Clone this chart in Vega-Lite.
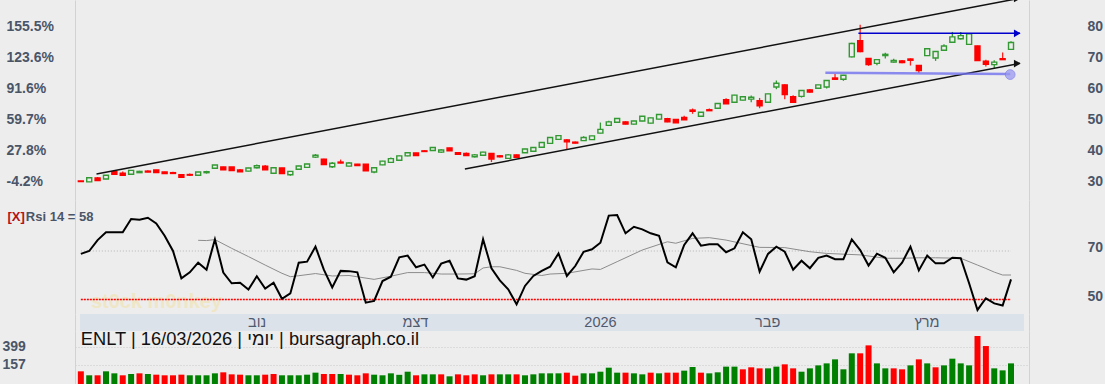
{
"$schema":"https://vega.github.io/schema/vega-lite/v6.json",
"width":954,"height":384,"autosize":"none",
"padding":{"left":75,"right":76,"top":0,"bottom":0},
"background":"#ededed",
"config":{"view":{"stroke":null},"axis":{"labelFont":"Liberation Sans","labelFontSize":14,"labelFontWeight":"bold","labelColor":"#4a5568","domainColor":"#d2d2d2","ticks":false,"tickSize":0,"grid":false,"labelOverlap":false},"text":{"font":"Liberation Sans"}},
"datasets":{
"d":[
{"i":0,"o":30.2,"h":30.3,"l":30.0,"c":30.05,"vol":72,"chg":"down","rsi":68.8},
{"i":1,"o":29.95,"h":31.3,"l":29.9,"c":31.25,"vol":18.6,"chg":"up","rsi":70.0},
{"i":2,"o":31.2,"h":31.5,"l":30.3,"c":30.35,"vol":18.6,"chg":"down","rsi":74.5},
{"i":3,"o":30.85,"h":32.1,"l":30.8,"c":32.05,"vol":72,"chg":"up","rsi":77.7},
{"i":4,"o":33.2,"h":33.3,"l":32.3,"c":32.4,"vol":45,"chg":"up","rsi":77.7},
{"i":5,"o":32.7,"h":33.3,"l":32.0,"c":32.05,"vol":18.6,"chg":"down","rsi":77.7},
{"i":6,"o":32.4,"h":33.7,"l":32.3,"c":33.65,"vol":36,"chg":"up","rsi":83.2},
{"i":7,"o":32.9,"h":33.5,"l":32.8,"c":33.3,"vol":45,"chg":"down","rsi":82.9},
{"i":8,"o":33.4,"h":33.7,"l":33.0,"c":33.1,"vol":36,"chg":"up","rsi":83.7},
{"i":9,"o":33.75,"h":33.8,"l":32.85,"c":32.9,"vol":27,"chg":"down","rsi":81.4},
{"i":10,"o":33.1,"h":33.2,"l":32.55,"c":32.6,"vol":18.6,"chg":"down","rsi":76.3},
{"i":11,"o":32.9,"h":33.2,"l":32.6,"c":32.65,"vol":18.6,"chg":"down","rsi":70.0},
{"i":12,"o":32.25,"h":32.3,"l":31.3,"c":31.4,"vol":27,"chg":"down","rsi":58.7},
{"i":13,"o":32.3,"h":32.6,"l":31.8,"c":32.1,"vol":18.6,"chg":"up","rsi":61.2},
{"i":14,"o":32.05,"h":33.15,"l":32.0,"c":33.1,"vol":18.6,"chg":"up","rsi":65.2,"ma":74.4},
{"i":15,"o":32.9,"h":33.5,"l":32.6,"c":33.2,"vol":18.6,"chg":"up","rsi":62.3,"ma":74.3},
{"i":16,"o":34.3,"h":35.4,"l":34.2,"c":35.35,"vol":45,"chg":"up","rsi":74.8,"ma":74.7},
{"i":17,"o":34.7,"h":34.8,"l":33.8,"c":33.85,"vol":58.6,"chg":"down","rsi":61.1},
{"i":18,"o":34.7,"h":34.75,"l":33.5,"c":33.55,"vol":31.5,"chg":"down","rsi":56.7,"ma":71.1},
{"i":19,"o":33.75,"h":34.1,"l":33.15,"c":33.2,"vol":27,"chg":"down","rsi":56.9},
{"i":20,"o":33.4,"h":34.45,"l":33.3,"c":34.4,"vol":18.6,"chg":"up","rsi":54.1,"ma":67.7},
{"i":21,"o":34.5,"h":35.5,"l":34.2,"c":35.1,"vol":18.6,"chg":"up","rsi":59.6},
{"i":22,"o":34.95,"h":35.4,"l":33.8,"c":33.85,"vol":27,"chg":"down","rsi":54.5,"ma":64.2},
{"i":23,"o":32.7,"h":34.6,"l":32.6,"c":34.5,"vol":36,"chg":"down","rsi":56.9},
{"i":24,"o":34.4,"h":34.5,"l":32.5,"c":32.6,"vol":18.6,"chg":"up","rsi":50.3,"ma":60.8},
{"i":25,"o":32.25,"h":33.4,"l":31.9,"c":33.3,"vol":18.6,"chg":"up","rsi":52.5,"ma":59.4},
{"i":26,"o":34.0,"h":35.1,"l":33.9,"c":35.05,"vol":18.6,"chg":"up","rsi":65.2,"ma":59.8},
{"i":27,"o":34.6,"h":35.75,"l":34.5,"c":35.7,"vol":27,"chg":"up","rsi":65.6},
{"i":28,"o":37.9,"h":38.9,"l":37.6,"c":38.5,"vol":54,"chg":"up","rsi":71.8,"ma":60.7},
{"i":29,"o":37.2,"h":37.4,"l":35.4,"c":35.5,"vol":36,"chg":"down","rsi":62.3},
{"i":30,"o":34.8,"h":36.3,"l":34.4,"c":35.9,"vol":36,"chg":"down","rsi":55.0,"ma":59.7},
{"i":31,"o":36.3,"h":37.1,"l":35.9,"c":36.0,"vol":36,"chg":"up","rsi":61.8},
{"i":32,"o":35.0,"h":36.3,"l":34.9,"c":36.0,"vol":27,"chg":"down","rsi":61.7,"ma":59.9},
{"i":33,"o":35.6,"h":35.7,"l":35.1,"c":35.15,"vol":18.6,"chg":"down","rsi":61.2},
{"i":34,"o":35.65,"h":35.7,"l":33.4,"c":33.5,"vol":45,"chg":"down","rsi":48.7},
{"i":35,"o":33.1,"h":34.6,"l":32.7,"c":34.5,"vol":27,"chg":"up","rsi":49.4,"ma":58.3},
{"i":36,"o":35.4,"h":36.7,"l":35.3,"c":36.6,"vol":18.6,"chg":"up","rsi":57.6},
{"i":37,"o":36.2,"h":37.8,"l":36.1,"c":37.4,"vol":45,"chg":"up","rsi":59.4,"ma":59.6},
{"i":38,"o":36.9,"h":38.4,"l":36.8,"c":38.3,"vol":25,"chg":"up","rsi":67.4},
{"i":39,"o":38.3,"h":39.5,"l":38.2,"c":39.3,"vol":67,"chg":"up","rsi":68.1,"ma":61.1},
{"i":40,"o":39.2,"h":39.3,"l":38.3,"c":38.4,"vol":18.6,"chg":"down","rsi":63.3},
{"i":41,"o":39.9,"h":40.1,"l":39.6,"c":39.7,"vol":31.5,"chg":"up","rsi":64.4,"ma":61.1},
{"i":42,"o":40.0,"h":41.1,"l":39.9,"c":41.0,"vol":31.5,"chg":"up","rsi":59.1},
{"i":43,"o":39.5,"h":40.5,"l":39.2,"c":40.2,"vol":31.5,"chg":"down","rsi":64.8,"ma":60.5},
{"i":44,"o":40.8,"h":40.9,"l":39.9,"c":39.95,"vol":5,"chg":"up","rsi":66.0},
{"i":45,"o":39.3,"h":39.4,"l":38.75,"c":38.8,"vol":31.5,"chg":"down","rsi":58.7,"ma":60.5},
{"i":46,"o":39.1,"h":39.4,"l":38.3,"c":38.4,"vol":18.6,"chg":"down","rsi":58.2},
{"i":47,"o":38.0,"h":38.9,"l":37.8,"c":38.6,"vol":31.5,"chg":"down","rsi":59.6,"ma":60.6},
{"i":48,"o":38.5,"h":39.6,"l":38.4,"c":39.5,"vol":18.6,"chg":"up","rsi":74.8,"ma":63.0},
{"i":49,"o":39.1,"h":39.2,"l":36.3,"c":37.3,"vol":31.5,"chg":"down","rsi":62.9,"ma":63.5},
{"i":50,"o":38.3,"h":38.6,"l":37.8,"c":38.0,"vol":31.5,"chg":"up","rsi":57.9,"ma":63.5},
{"i":51,"o":37.5,"h":38.9,"l":37.3,"c":38.6,"vol":31.5,"chg":"up","rsi":54.2},
{"i":52,"o":38.6,"h":38.7,"l":37.8,"c":37.85,"vol":31.5,"chg":"down","rsi":48.0,"ma":62.0},
{"i":53,"o":39.3,"h":40.55,"l":39.2,"c":40.5,"vol":18.6,"chg":"up","rsi":55.6,"ma":60.8},
{"i":54,"o":39.8,"h":41.1,"l":39.7,"c":41.0,"vol":31.5,"chg":"up","rsi":59.7},
{"i":55,"o":41.05,"h":42.7,"l":41.0,"c":42.6,"vol":45,"chg":"up","rsi":61.8,"ma":59.9},
{"i":56,"o":42.3,"h":44.3,"l":42.2,"c":44.2,"vol":45,"chg":"up","rsi":63.5,"ma":60.5},
{"i":57,"o":43.6,"h":44.85,"l":43.5,"c":44.8,"vol":45,"chg":"up","rsi":69.0},
{"i":58,"o":43.4,"h":43.7,"l":40.4,"c":42.8,"vol":54,"chg":"down","rsi":59.7,"ma":60.8},
{"i":59,"o":42.7,"h":42.9,"l":42.3,"c":42.4,"vol":13.6,"chg":"down","rsi":63.8},
{"i":60,"o":43.2,"h":44.6,"l":43.1,"c":44.2,"vol":45,"chg":"up","rsi":69.7},
{"i":61,"o":43.5,"h":44.75,"l":43.4,"c":44.7,"vol":45,"chg":"up","rsi":70.7,"ma":62.6},
{"i":62,"o":45.6,"h":49.0,"l":45.5,"c":46.8,"vol":67,"chg":"up","rsi":73.4,"ma":62.4},
{"i":63,"o":48.1,"h":49.6,"l":48.0,"c":49.2,"vol":121,"chg":"up","rsi":84.6},
{"i":64,"o":49.1,"h":50.4,"l":49.0,"c":50.3,"vol":54,"chg":"up","rsi":84.8,"ma":65.6},
{"i":65,"o":49.2,"h":49.4,"l":48.4,"c":48.5,"vol":54,"chg":"down","rsi":77.3},
{"i":66,"o":48.5,"h":49.55,"l":48.4,"c":49.5,"vol":45,"chg":"up","rsi":80.0},
{"i":67,"o":49.5,"h":51.05,"l":49.4,"c":51.0,"vol":31.5,"chg":"up","rsi":78.9,"ma":70.4},
{"i":68,"o":48.8,"h":50.6,"l":48.7,"c":50.5,"vol":54,"chg":"down","rsi":77.3},
{"i":69,"o":50.1,"h":51.65,"l":50.0,"c":51.6,"vol":45,"chg":"up","rsi":76.3,"ma":72.7},
{"i":70,"o":50.2,"h":50.5,"l":49.1,"c":49.2,"vol":54,"chg":"down","rsi":65.3,"ma":73.8},
{"i":71,"o":50.0,"h":50.05,"l":48.85,"c":48.9,"vol":54,"chg":"down","rsi":63.3,"ma":73.2},
{"i":72,"o":50.6,"h":51.2,"l":49.8,"c":49.9,"vol":81,"chg":"up","rsi":72.5},
{"i":73,"o":53.0,"h":53.5,"l":51.8,"c":52.6,"vol":130,"chg":"up","rsi":77.3,"ma":75.2},
{"i":74,"o":51.0,"h":52.35,"l":50.9,"c":52.3,"vol":54,"chg":"down","rsi":72.2},
{"i":75,"o":53.1,"h":53.5,"l":52.7,"c":52.8,"vol":45,"chg":"up","rsi":72.8,"ma":75.5},
{"i":76,"o":53.6,"h":55.2,"l":53.5,"c":55.1,"vol":58.6,"chg":"up","rsi":72.8},
{"i":77,"o":56.3,"h":56.8,"l":55.0,"c":55.05,"vol":135,"chg":"up","rsi":69.5,"ma":74.5},
{"i":78,"o":55.5,"h":57.9,"l":55.4,"c":57.8,"vol":135,"chg":"up","rsi":71.1},
{"i":79,"o":56.2,"h":57.35,"l":56.1,"c":57.3,"vol":99,"chg":"down","rsi":77.7},
{"i":80,"o":56.5,"h":57.7,"l":55.5,"c":57.1,"vol":126,"chg":"down","rsi":74.8},
{"i":81,"o":56.0,"h":56.9,"l":53.6,"c":54.4,"vol":112,"chg":"down","rsi":61.5,"ma":71.5},
{"i":82,"o":55.5,"h":58.25,"l":55.4,"c":58.2,"vol":112,"chg":"up","rsi":68.8},
{"i":83,"o":60.4,"h":62.5,"l":59.7,"c":61.6,"vol":135,"chg":"up","rsi":71.8},
{"i":84,"o":61.1,"h":61.3,"l":56.5,"c":58.0,"vol":166,"chg":"down","rsi":69.7,"ma":71.4},
{"i":85,"o":57.3,"h":57.8,"l":55.4,"c":55.5,"vol":112,"chg":"down","rsi":62.3},
{"i":86,"o":57.4,"h":59.4,"l":57.0,"c":59.3,"vol":67,"chg":"up","rsi":66.0},
{"i":87,"o":59.5,"h":59.8,"l":58.6,"c":58.8,"vol":112,"chg":"up","rsi":62.9,"ma":69.7},
{"i":88,"o":60.0,"h":61.15,"l":59.9,"c":61.1,"vol":152,"chg":"up","rsi":67.2},
{"i":89,"o":60.4,"h":62.6,"l":59.9,"c":62.5,"vol":179,"chg":"up","rsi":68.1,"ma":69.0},
{"i":90,"o":63.3,"h":64.6,"l":62.8,"c":62.9,"vol":233,"chg":"up","rsi":66.6},
{"i":91,"o":62.9,"h":64.3,"l":62.4,"c":64.2,"vol":99,"chg":"up","rsi":66.6},
{"i":92,"o":70.1,"h":74.6,"l":69.9,"c":74.4,"vol":314,"chg":"up","rsi":74.8},
{"i":93,"o":75.3,"h":80.4,"l":71.6,"c":71.8,"vol":314,"chg":"down","rsi":70.4,"ma":68.4},
{"i":94,"o":69.6,"h":69.7,"l":67.2,"c":67.6,"vol":421,"chg":"down","rsi":64.0},
{"i":95,"o":68.0,"h":69.3,"l":67.4,"c":69.2,"vol":179,"chg":"up","rsi":68.9},
{"i":96,"o":70.5,"h":71.4,"l":69.6,"c":70.9,"vol":112,"chg":"up","rsi":67.2,"ma":67.0},
{"i":97,"o":68.4,"h":69.5,"l":68.2,"c":68.9,"vol":112,"chg":"down","rsi":61.2},
{"i":98,"o":68.8,"h":69.1,"l":68.0,"c":68.3,"vol":99,"chg":"down","rsi":65.2,"ma":67.0},
{"i":99,"o":69.4,"h":69.6,"l":67.3,"c":69.0,"vol":152,"chg":"up","rsi":71.8},
{"i":100,"o":67.3,"h":67.5,"l":64.9,"c":65.7,"vol":233,"chg":"down","rsi":62.0,"ma":67.2},
{"i":101,"o":70.5,"h":72.75,"l":70.4,"c":72.7,"vol":179,"chg":"up","rsi":68.1},
{"i":102,"o":69.7,"h":71.9,"l":68.8,"c":71.8,"vol":126,"chg":"down","rsi":64.9,"ma":67.2},
{"i":103,"o":72.2,"h":74.1,"l":72.1,"c":73.6,"vol":152,"chg":"up","rsi":64.9},
{"i":104,"o":74.8,"h":78.1,"l":74.7,"c":76.5,"vol":242,"chg":"up","rsi":67.2},
{"i":105,"o":75.9,"h":78.1,"l":75.7,"c":76.9,"vol":179,"chg":"up","rsi":67.0,"ma":67.0},
{"i":106,"o":74.1,"h":77.6,"l":74.0,"c":77.5,"vol":152,"chg":"up","rsi":56.7},
{"i":107,"o":73.6,"h":73.7,"l":68.8,"c":68.9,"vol":547,"chg":"down","rsi":45.7,"ma":64.2},
{"i":108,"o":68.7,"h":69.2,"l":67.0,"c":67.7,"vol":412,"chg":"down","rsi":50.5,"ma":62.8},
{"i":109,"o":67.6,"h":69.0,"l":66.4,"c":68.4,"vol":112,"chg":"up","rsi":48.4,"ma":61.3},
{"i":110,"o":69.5,"h":71.5,"l":69.1,"c":69.2,"vol":85,"chg":"up","rsi":47.5,"ma":60.1},
{"i":111,"o":72.5,"h":75.1,"l":72.4,"c":74.7,"vol":179,"chg":"up","rsi":58.3,"ma":60.1}
],
"tl":[
{"id":"up","i":1.87,"p":32.47},{"id":"up","i":112.07,"p":88.92},
{"id":"lo","i":45.83,"p":34.08},{"id":"lo","i":112.07,"p":68.02},
{"id":"res","i":92.79,"p":77.65},{"id":"res","i":112.07,"p":77.65},
{"id":"sup","i":88.85,"p":64.95},{"id":"sup","i":110.9,"p":64.55}
],
"arr":[
{"id":"up","i":111.75,"p":88.85},{"id":"lo","i":111.75,"p":67.95},{"id":"res","i":111.75,"p":77.65}
],
"mon":[
{"m":"נוב","i":21.04},{"m":"דצמ","i":39.93},{"m":"2026","i":62.01},{"m":"פבר","i":81.96},{"m":"מרץ","i":100.97}
]
},
"resolve":{"scale":{"y":"independent"},"axis":{"y":"independent"}},
"layer":[
{"data":{"name":"d"},"mark":{"type":"rule","strokeWidth":1.3},
 "encoding":{
  "x":{"field":"i","type":"quantitative","scale":{"domain":[-0.1,112.55],"nice":false,"zero":false},"axis":null},
  "y":{"field":"l","type":"quantitative","scale":{"domain":[24.12,88.35],"range":[200,0],"nice":false,"zero":false},
       "axis":{"orient":"left","values":[30,40,50,60,70,80],"labelAlign":"left","labelBaseline":"middle","labelPadding":69,"title":null,
       "labelExpr":"datum.value == 30 ? '-4.2%' : datum.value == 40 ? '27.8%' : datum.value == 50 ? '59.7%' : datum.value == 60 ? '91.6%' : datum.value == 70 ? '123.6%' : '155.5%'"}},
  "y2":{"field":"h"},
  "color":{"condition":{"test":"datum.c >= datum.o","value":"#339933"},"value":"#ff2020"}}},
{"data":{"name":"d"},"mark":{"type":"bar","width":5,"strokeWidth":1.4},
 "encoding":{
  "x":{"field":"i","type":"quantitative","scale":{"domain":[-0.1,112.55],"nice":false,"zero":false},"axis":null},
  "y":{"field":"o","type":"quantitative","scale":{"domain":[24.12,88.35],"range":[200,0],"nice":false,"zero":false},
       "axis":{"orient":"right","values":[30,40,50,60,70,80],"labelAlign":"left","labelBaseline":"middle","labelPadding":58,"title":null}},
  "y2":{"field":"c"},
  "fill":{"condition":{"test":"datum.c >= datum.o","value":"#ededed"},"value":"#ff0000"},
  "stroke":{"condition":{"test":"datum.c >= datum.o","value":"#339933"},"value":"#ff0000"}}},
{"data":{"name":"tl"},"transform":[{"filter":"datum.id != 'sup'"}],"mark":{"type":"line","strokeWidth":1.5},
 "encoding":{
  "x":{"field":"i","type":"quantitative","scale":{"domain":[-0.1,112.55],"nice":false,"zero":false},"axis":null},
  "y":{"field":"p","type":"quantitative","scale":{"domain":[24.12,88.35],"range":[200,0],"nice":false,"zero":false},"axis":null},
  "color":{"field":"id","type":"nominal","scale":{"domain":["up","lo","res"],"range":["#111111","#111111","#0000cc"]},"legend":null}}},
{"data":{"name":"tl"},"transform":[{"filter":"datum.id == 'sup'"}],"mark":{"type":"line","strokeWidth":2.5,"color":"#7070ee","opacity":0.8},
 "encoding":{
  "x":{"field":"i","type":"quantitative","scale":{"domain":[-0.1,112.55],"nice":false,"zero":false},"axis":null},
  "y":{"field":"p","type":"quantitative","scale":{"domain":[24.12,88.35],"range":[200,0],"nice":false,"zero":false},"axis":null}}},
{"data":{"name":"arr"},"mark":{"type":"point","shape":"triangle-right","filled":true,"size":60,"opacity":1},
 "encoding":{
  "x":{"field":"i","type":"quantitative","scale":{"domain":[-0.1,112.55],"nice":false,"zero":false},"axis":null},
  "y":{"field":"p","type":"quantitative","scale":{"domain":[24.12,88.35],"range":[200,0],"nice":false,"zero":false},"axis":null},
  "color":{"field":"id","type":"nominal","scale":{"domain":["up","lo","res"],"range":["#111111","#111111","#0000cc"]},"legend":null}}},
{"data":{"values":[{"i":110.9,"p":64.4}]},"mark":{"type":"point","shape":"circle","filled":true,"size":95,"color":"#9a9af2","opacity":0.75,"stroke":"#7a7aee","strokeWidth":1},
 "encoding":{
  "x":{"field":"i","type":"quantitative","scale":{"domain":[-0.1,112.55],"nice":false,"zero":false},"axis":null},
  "y":{"field":"p","type":"quantitative","scale":{"domain":[24.12,88.35],"range":[200,0],"nice":false,"zero":false},"axis":null}}},

{"data":{"values":[{}]},"mark":{"type":"text","text":"st0ck m0nkey","align":"left","baseline":"middle","fontSize":20,"fontWeight":"bold","color":"#f2e2a8","opacity":0.55},
 "encoding":{
  "x":{"datum":1.2,"type":"quantitative","scale":{"domain":[-0.1,112.55],"nice":false,"zero":false},"axis":null},
  "y":{"datum":48.97,"type":"quantitative","scale":{"domain":[44.02,91.03],"range":[314,200],"nice":false,"zero":false},"axis":null}}},
{"data":{"values":[{}]},"mark":{"type":"rule","color":"#b5b5b5","strokeDash":[1,2],"strokeWidth":1},
 "encoding":{
  "x":{"datum":0,"type":"quantitative","scale":{"domain":[-0.1,112.55],"nice":false,"zero":false},"axis":null},
  "x2":{"datum":111},
  "y":{"datum":70,"type":"quantitative","scale":{"domain":[44.02,91.03],"range":[314,200],"nice":false,"zero":false},
       "axis":{"orient":"left","labels":false,"title":null}}}},
{"data":{"values":[{}]},"mark":{"type":"rule","color":"#ff0000","strokeDash":[2,1],"strokeWidth":1.6},
 "encoding":{
  "x":{"datum":0,"type":"quantitative","scale":{"domain":[-0.1,112.55],"nice":false,"zero":false},"axis":null},
  "x2":{"datum":111},
  "y":{"datum":50,"type":"quantitative","scale":{"domain":[44.02,91.03],"range":[314,200],"nice":false,"zero":false},"axis":null}}},
{"data":{"name":"d"},"transform":[{"filter":"isValid(datum.ma)"}],"mark":{"type":"line","color":"#8c8c8c","strokeWidth":1},
 "encoding":{
  "x":{"field":"i","type":"quantitative","scale":{"domain":[-0.1,112.55],"nice":false,"zero":false},"axis":null},
  "y":{"field":"ma","type":"quantitative","scale":{"domain":[44.02,91.03],"range":[314,200],"nice":false,"zero":false},"axis":null}}},
{"data":{"name":"d"},"mark":{"type":"line","color":"#000000","strokeWidth":2},
 "encoding":{
  "x":{"field":"i","type":"quantitative","scale":{"domain":[-0.1,112.55],"nice":false,"zero":false},"axis":null},
  "y":{"field":"rsi","type":"quantitative","scale":{"domain":[44.02,91.03],"range":[314,200],"nice":false,"zero":false},
       "axis":{"orient":"right","values":[50,70],"labelAlign":"left","labelBaseline":"middle","labelPadding":58,"labelOffset":-3,"title":null}}}},
{"data":{"values":[{}]},"mark":{"type":"text","text":"[X]","align":"left","baseline":"middle","fontSize":13,"fontWeight":"bold","color":"#b3121b"},
 "encoding":{
  "x":{"datum":-8.75,"type":"quantitative","scale":{"domain":[-0.1,112.55],"nice":false,"zero":false},"axis":null},
  "y":{"datum":84.0,"type":"quantitative","scale":{"domain":[44.02,91.03],"range":[314,200],"nice":false,"zero":false},"axis":null}}},
{"data":{"values":[{}]},"mark":{"type":"text","text":"Rsi 14 = 58","align":"left","baseline":"middle","fontSize":13,"fontWeight":"bold","color":"#4a5568"},
 "encoding":{
  "x":{"datum":-6.56,"type":"quantitative","scale":{"domain":[-0.1,112.55],"nice":false,"zero":false},"axis":null},
  "y":{"datum":84.0,"type":"quantitative","scale":{"domain":[44.02,91.03],"range":[314,200],"nice":false,"zero":false},"axis":null}}},

{"data":{"values":[{}]},"mark":{"type":"rect","color":"#dce2ea"},
 "encoding":{
  "x":{"datum":-0.1,"type":"quantitative","scale":{"domain":[-0.1,112.55],"nice":false,"zero":false},"axis":null},
  "x2":{"datum":112.55},
  "y":{"datum":0,"type":"quantitative","scale":{"domain":[0,1],"range":[331,314],"nice":false,"zero":false},"axis":{"orient":"left","labels":false,"title":null}},
  "y2":{"datum":1}}},
{"data":{"name":"mon"},"mark":{"type":"text","baseline":"middle","align":"center","fontSize":14.5,"color":"#4f5a6e"},
 "encoding":{
  "x":{"field":"i","type":"quantitative","scale":{"domain":[-0.1,112.55],"nice":false,"zero":false},"axis":null},
  "y":{"datum":0.5,"type":"quantitative","scale":{"domain":[0,1],"range":[331,314],"nice":false,"zero":false},"axis":{"orient":"right","labels":false,"title":null}},
  "text":{"field":"m"}}},

{"data":{"name":"d"},"mark":{"type":"bar","width":6},
 "encoding":{
  "x":{"field":"i","type":"quantitative","scale":{"domain":[-0.1,112.55],"nice":false,"zero":false},"axis":null},
  "y":{"field":"vol","type":"quantitative","scale":{"domain":[-98.4,614],"range":[384,331],"nice":false,"zero":false},
       "axis":{"orient":"left","values":[157,399],"labelAlign":"left","labelBaseline":"middle","labelPadding":73,"title":null,"grid":true,"gridDash":[1,2],"gridColor":"#c8c8c8"}},
  "y2":{"datum":-98.4},
  "fill":{"field":"chg","type":"nominal","scale":{"domain":["up","down"],"range":["#008000","#ff0000"]},"legend":null}}},
{"data":{"values":[{}]},"mark":{"type":"text","text":"ENLT | 16/03/2026 | יומי | bursagraph.co.il","align":"left","baseline":"middle","fontSize":18.3,"color":"#111111"},
 "encoding":{
  "x":{"datum":0.0,"type":"quantitative","scale":{"domain":[-0.1,112.55],"nice":false,"zero":false},"axis":null},
  "y":{"datum":499.7,"type":"quantitative","scale":{"domain":[-98.4,614],"range":[384,331],"nice":false,"zero":false},"axis":{"orient":"right","labels":false,"title":null}}}}
]
}
